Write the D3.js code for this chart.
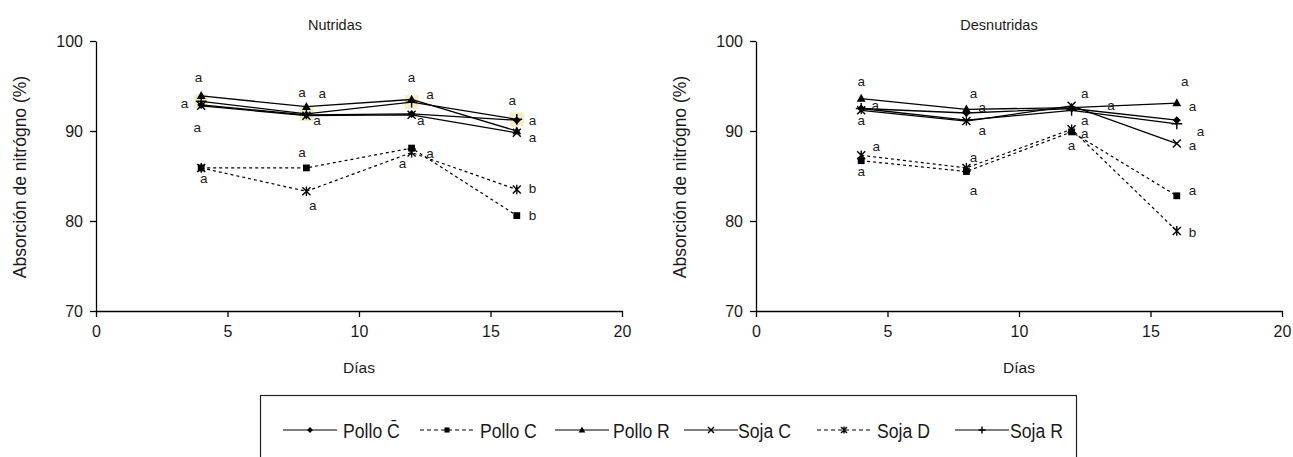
<!DOCTYPE html>
<html>
<head>
<meta charset="utf-8">
<script src="https://cdnjs.cloudflare.com/ajax/libs/d3/7.8.5/d3.min.js"></script>
<style>
  body { margin: 0; background: #fff; }
  svg text { font-family: "Liberation Sans", Arial, sans-serif; fill: #1a1a1a; }
</style>
</head>
<body>
<div id="chart"></div>
<script>
//Data
var days = [4, 8, 12, 16];
var seriesNames = ["Pollo C\u0304", "Pollo C", "Pollo R", "Soja C", "Soja D", "Soja R"];
var seriesMarkers = ["diamond", "square", "triangle", "x", "asterisk", "plus"];
var seriesDashed = [false, true, false, false, true, false];

//Nutridas
var nutPolloCbar = [92.9, 91.8, 91.9, 91.2];
var nutPolloC = [85.9, 85.9, 88.1, 80.6];
var nutPolloR = [93.9, 92.7, 93.5, 90.0];
var nutSojaC = [92.8, 91.7, 91.8, 89.8];
var nutSojaD = [85.9, 83.3, 87.6, 83.5];
var nutSojaR = [93.3, 91.9, 93.2, 91.3];

//Desnutridas
var desPolloCbar = [92.5, 92.0, 92.5, 91.2];
var desPolloC = [86.7, 85.5, 89.9, 82.8];
var desPolloR = [93.6, 92.4, 92.6, 93.1];
var desSojaC = [92.3, 91.1, 92.8, 88.6];
var desSojaD = [87.3, 85.9, 90.2, 78.9];
var desSojaR = [92.5, 91.2, 92.3, 90.8];

//Significance letters: [day, value, letter]
var nutLetters = [
  [3.9, 96.0, "a"], [3.37, 93.1, "a"], [3.85, 90.4, "a"], [4.1, 84.7, "a"],
  [7.83, 94.3, "a"], [8.6, 94.2, "a"], [8.4, 91.2, "a"], [7.83, 87.6, "a"], [8.24, 81.8, "a"],
  [12.0, 96.0, "a"], [12.7, 94.1, "a"], [12.35, 91.2, "a"], [12.7, 87.5, "a"], [11.65, 86.4, "a"],
  [15.83, 93.4, "a"], [16.6, 91.2, "a"], [16.6, 89.3, "a"], [16.6, 83.6, "b"], [16.6, 80.6, "b"]
];
var desLetters = [
  [4.0, 95.5, "a"], [4.53, 92.9, "a"], [4.0, 91.2, "a"], [4.57, 88.3, "a"], [4.0, 85.5, "a"],
  [8.27, 94.2, "a"], [8.6, 92.6, "a"], [8.6, 90.1, "a"], [8.27, 87.1, "a"], [8.27, 83.4, "a"],
  [12.5, 94.2, "a"], [13.5, 92.9, "a"], [12.5, 91.2, "a"], [12.5, 89.8, "a"], [12.0, 88.4, "a"],
  [16.3, 95.5, "a"], [16.6, 92.7, "a"], [16.9, 90.0, "a"], [16.6, 88.4, "a"], [16.6, 83.4, "a"], [16.6, 78.7, "b"]
];

var xTicks = [0, 5, 10, 15, 20];
var yTicks = [70, 80, 90, 100];

var width = 1293, height = 457;
var svg = d3.select("#chart").append("svg")
    .attr("width", width)
    .attr("height", height);

//Draw one marker shape centred on cx, cy
function drawMarker(g, type, cx, cy, s) {
    var m = g.append("g").attr("transform", "translate(" + cx + "," + cy + ")");
    if (type === "diamond") {
        m.append("path").attr("d", "M0," + (-s) + "L" + s + ",0L0," + s + "L" + (-s) + ",0Z").attr("fill", "#000");
    } else if (type === "square") {
        m.append("rect").attr("x", -s * 0.85).attr("y", -s * 0.85)
            .attr("width", s * 1.7).attr("height", s * 1.7).attr("fill", "#000");
    } else if (type === "triangle") {
        m.append("path").attr("d", "M0," + (-s * 1.2) + "L" + (s * 1.1) + "," + (s * 0.8) + "L" + (-s * 1.1) + "," + (s * 0.8) + "Z").attr("fill", "#000");
    } else if (type === "x") {
        m.append("path").attr("d", "M" + (-s) + "," + (-s) + "L" + s + "," + s + "M" + s + "," + (-s) + "L" + (-s) + "," + s)
            .attr("stroke", "#000").attr("stroke-width", 1.4);
    } else if (type === "asterisk") {
        m.append("path").attr("d", "M" + (-s) + "," + (-s) + "L" + s + "," + s + "M" + s + "," + (-s) + "L" + (-s) + "," + s +
            "M0," + (-s * 1.2) + "L0," + (s * 1.2))
            .attr("stroke", "#000").attr("stroke-width", 1.4);
    } else if (type === "plus") {
        m.append("path").attr("d", "M" + (-s * 1.2) + ",0L" + (s * 1.2) + ",0M0," + (-s * 1.2) + "L0," + (s * 1.2))
            .attr("stroke", "#000").attr("stroke-width", 1.4);
    }
}

function drawPanel(opts) {
    var x = d3.scaleLinear().domain([0, 20]).range([opts.left, opts.left + 526]);
    var y = d3.scaleLinear().domain([70, 100]).range([311, 41]);
    var g = svg.append("g");

    //Axes
    var yAxis = g.append("g").attr("transform", "translate(" + opts.left + ",0)")
        .call(d3.axisLeft(y).tickValues(yTicks).tickSize(6).tickPadding(7).tickSizeOuter(0));
    var xAxis = g.append("g").attr("transform", "translate(0,311)")
        .call(d3.axisBottom(x).tickValues(xTicks).tickSize(6).tickPadding(9).tickSizeOuter(0));
    [xAxis, yAxis].forEach(function (a) {
        a.attr("font-size", 16);
        a.select(".domain").attr("stroke", "#000").attr("stroke-width", 1.3);
        a.selectAll(".tick line").attr("stroke", "#000").attr("stroke-width", 1.3);
        a.selectAll(".tick text").attr("fill", "#1a1a1a")
            .style("font-family", "'Liberation Sans', Arial, sans-serif");
    });

    //Titles
    g.append("text").attr("x", opts.titleX).attr("y", 30).attr("text-anchor", "middle")
        .attr("font-size", 14.5).text(opts.title);
    g.append("text").attr("x", opts.left + 263).attr("y", 373).attr("text-anchor", "middle")
        .attr("font-size", 15.5).text("Días");
    g.append("text").attr("transform", "translate(" + (opts.left - 70) + ",177) rotate(-90)")
        .attr("text-anchor", "middle").attr("font-size", 17.5).text("Absorción de nitrógno (%)");

    //Pale highlight boxes behind Soja R in the left panel
    if (opts.highlight) {
        g.selectAll("rect.hl").data(opts.highlight).enter().append("rect")
            .attr("class", "hl")
            .attr("x", function (d, i) { return x(days[i]) - 7; })
            .attr("y", function (d) { return y(d) - 7; })
            .attr("width", 14).attr("height", 14)
            .attr("fill", "#f3eec4");
    }

    var line = d3.line()
        .x(function (d, i) { return x(days[i]); })
        .y(function (d) { return y(d); });

    opts.series.forEach(function (vals, k) {
        g.append("path").datum(vals)
            .attr("d", line)
            .attr("fill", "none")
            .attr("stroke", "#000")
            .attr("stroke-width", seriesDashed[k] ? 1.2 : 1.3)
            .attr("stroke-dasharray", seriesDashed[k] ? "3,3" : null);
    });
    opts.series.forEach(function (vals, k) {
        vals.forEach(function (v, i) {
            drawMarker(g, seriesMarkers[k], x(days[i]), y(v), seriesMarkers[k] === "plus" ? 4.5 : 4);
        });
    });

    g.selectAll("text.letter").data(opts.letters).enter().append("text")
        .attr("class", "letter")
        .attr("x", function (d) { return x(d[0]); })
        .attr("y", function (d) { return y(d[1]); })
        .attr("dy", "0.35em")
        .attr("text-anchor", "middle")
        .attr("font-size", 13.5)
        .text(function (d) { return d[2]; });
}

drawPanel({
    left: 96, title: "Nutridas", titleX: 335,
    series: [nutPolloCbar, nutPolloC, nutPolloR, nutSojaC, nutSojaD, nutSojaR],
    letters: nutLetters,
    highlight: nutSojaR
});
drawPanel({
    left: 756, title: "Desnutridas", titleX: 999,
    series: [desPolloCbar, desPolloC, desPolloR, desSojaC, desSojaD, desSojaR],
    letters: desLetters
});

//Legend
var legend = svg.append("g").attr("class", "legend");
legend.append("rect").attr("x", 260.5).attr("y", 395.5).attr("width", 816).attr("height", 90)
    .attr("fill", "none").attr("stroke", "#222").attr("stroke-width", 1.2);
var legendLineX = [283, 420, 555, 684, 817, 955];
var legendTextX = [343, 480, 613, 738, 877, 1010];
seriesNames.forEach(function (name, k) {
    var lx = legendLineX[k], ly = 430;
    legend.append("line").attr("x1", lx).attr("x2", lx + 54).attr("y1", ly).attr("y2", ly)
        .attr("stroke", "#000").attr("stroke-width", 1.2)
        .attr("stroke-dasharray", seriesDashed[k] ? "4,3" : null);
    drawMarker(legend, seriesMarkers[k], lx + 27, ly, 3);
    //condensed look: squeeze a larger font horizontally
    legend.append("text")
        .attr("transform", "translate(" + legendTextX[k] + "," + ly + ") scale(0.84,1)")
        .attr("dy", "0.36em")
        .attr("font-size", 21).text(name);
});
</script>
</body>
</html>
